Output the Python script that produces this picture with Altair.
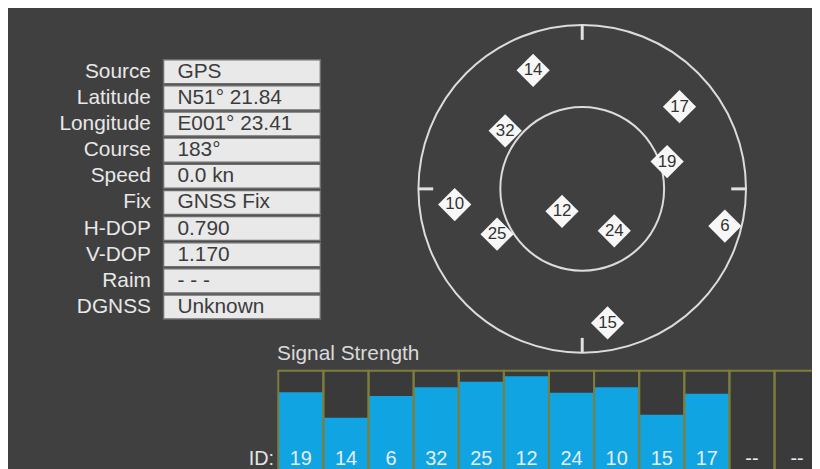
import altair as alt
import pandas as pd

# ---- data -------------------------------------------------------------
field_labels = ["Source", "Latitude", "Longitude", "Course", "Speed",
                "Fix", "H-DOP", "V-DOP", "Raim", "DGNSS"]
field_values = ["GPS", "N51° 21.84", "E001° 23.41", "183°", "0.0 kn",
                "GNSS Fix", "0.790", "1.170", "- - -", "Unknown"]

sat_ids = ["14", "17", "32", "19", "10", "12", "6", "25", "24", "15"]
sat_azimuth = [337.5, 49.8, 307.0, 72.2, 263.0, 222.0, 104.6, 242.0, 142.6, 169.3]
sat_elevation = [19.5, 20.0, 37.0, 41.0, 19.4, 73.4, 9.0, 37.0, 61.0, 15.0]

ring_elevations = [0, 45]
tick_azimuths = [0, 90, 180, 270]

slot_labels = ["19", "14", "6", "32", "25", "12", "24", "10", "15", "17", "--", "--"]
slot_strength = [81.7, 60.0, 78.4, 86.0, 90.7, 95.3, 81.2, 86.0, 62.6, 80.3, None, None]

FONT = "Liberation Sans"

# ---- info table -------------------------------------------------------
table_df = pd.DataFrame({"label": field_labels, "value": field_values})
ty = alt.Y("label:N", sort=field_labels, axis=None,
           scale=alt.Scale(domain=field_labels, range=[49.3, 312.7],
                           paddingInner=0.08, paddingOuter=0.04))
boxes = alt.Chart(table_df).mark_rect(fill="#e9e9e9", stroke="#6e6e6e", strokeWidth=1.5).encode(
    y=ty, x=alt.value(156.7), x2=alt.value(314.7))
lab_txt = alt.Chart(table_df).mark_text(align="right", baseline="middle", font=FONT,
                                        fontSize=21, color="#e8e8e8").encode(
    y=ty, x=alt.value(144), text="label:N")
val_txt = alt.Chart(table_df).mark_text(align="left", baseline="middle", font=FONT,
                                        fontSize=21, color="#3c3c3c").encode(
    y=ty, x=alt.value(170.7), text="value:N")
table_layer = alt.layer(boxes, lab_txt, val_txt)

# ---- sky plot ---------------------------------------------------------
px = alt.Scale(domain=[-1, 1], range=[413.5, 743.5], zero=False, nice=False)
py = alt.Scale(domain=[-1, 1], range=[345.5, 15.5], zero=False, nice=False)

rings = alt.Chart(pd.DataFrame({"el": ring_elevations})).transform_calculate(
    cx="0", cy="0", d="330*(90-datum.el)/90", s="datum.d*datum.d"
).mark_point(shape="circle", filled=False, color="#dcdcdc", strokeWidth=2, opacity=1).encode(
    x=alt.X("cx:Q", scale=px, axis=None),
    y=alt.Y("cy:Q", scale=py, axis=None),
    size=alt.Size("s:Q", scale=None, legend=None))

ticks = alt.Chart(pd.DataFrame({"az": tick_azimuths})).transform_calculate(
    tx1="sin(datum.az*PI/180)", ty1="cos(datum.az*PI/180)",
    tx2="0.91*sin(datum.az*PI/180)", ty2="0.91*cos(datum.az*PI/180)"
).mark_rule(color="#e2e2e2", strokeWidth=3).encode(
    x=alt.X("tx1:Q", scale=px, axis=None),
    y=alt.Y("ty1:Q", scale=py, axis=None),
    x2="tx2:Q", y2="ty2:Q")

sat_df = pd.DataFrame({"id": sat_ids, "az": sat_azimuth, "el": sat_elevation})
sat_base = alt.Chart(sat_df).transform_calculate(
    r="(90-datum.el)/90",
    sx="datum.r*sin(datum.az*PI/180)",
    sy="datum.r*cos(datum.az*PI/180)")
sat_enc = dict(x=alt.X("sx:Q", scale=px, axis=None), y=alt.Y("sy:Q", scale=py, axis=None))
diamonds = sat_base.mark_point(shape="diamond", filled=True, size=1120,
                               color="#f7f7f7", opacity=1).encode(**sat_enc)
sat_txt = sat_base.mark_text(font=FONT, fontSize=17, color="#333333",
                             baseline="middle").encode(text="id:N", **sat_enc)
polar_layer = alt.layer(rings, ticks, diamonds, sat_txt)

# ---- signal strength ---------------------------------------------------
sig_df = pd.DataFrame({"slot": list(range(len(slot_labels))), "label": slot_labels,
                       "strength": slot_strength})
sig_df["full"] = 100
sig_df["base"] = 0
bx = alt.Scale(domain=list(range(len(slot_labels))), range=[272.3, 817.7],
               paddingInner=0, paddingOuter=0)
by = alt.Scale(domain=[0, 100], range=[482, 363.7], zero=False, nice=False)
xs = alt.X("slot:O", scale=bx, axis=None)

slot_bg = alt.Chart(sig_df).mark_rect(fill="#3a3a3a").encode(
    x=xs, y=alt.Y("full:Q", scale=by, axis=None), y2="base:Q")
bars = alt.Chart(sig_df).transform_filter("isValid(datum.strength)").mark_rect(
    fill="#10a5e2").encode(x=xs, y=alt.Y("strength:Q", scale=by, axis=None), y2="base:Q")
slot_line = alt.Chart(sig_df).mark_rect(fillOpacity=0, fill="#000000", stroke="#7e7e3a",
                                        strokeWidth=2).encode(
    x=xs, y=alt.Y("full:Q", scale=by, axis=None), y2="base:Q")
id_txt = alt.Chart(sig_df).mark_text(font=FONT, fontSize=20, color="#e6eef5",
                                     baseline="middle").encode(
    x=xs, y=alt.value(452.7), text="label:N")
id_head = alt.Chart(pd.DataFrame({"t": ["ID:"]})).mark_text(
    font=FONT, fontSize=20, color="#e4e4e4", align="right", baseline="middle").encode(
    x=alt.value(268), y=alt.value(452.7), text="t:N")
sig_title = alt.Chart(pd.DataFrame({"t": ["Signal Strength"]})).mark_text(
    font=FONT, fontSize=21, color="#dadada", align="left", baseline="middle").encode(
    x=alt.value(271), y=alt.value(347), text="t:N")
bar_layer = alt.layer(slot_bg, bars, slot_line, id_txt, id_head, sig_title)

chart = alt.layer(table_layer, polar_layer, bar_layer).resolve_scale(
    x="independent", y="independent"
).properties(
    width=810, height=461, background="#404040", padding=0,
    autosize=alt.AutoSizeParams(type="none")
).configure_view(strokeWidth=0)

chart.save("out.html", embed_options={"renderer": "svg", "actions": False})
